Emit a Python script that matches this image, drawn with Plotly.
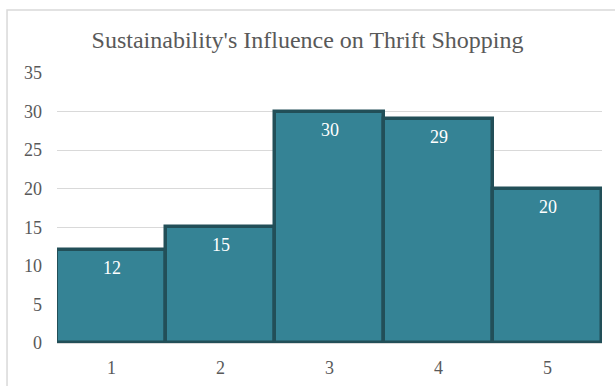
import plotly.graph_objects as go

# Survey scores and respondent counts
categories = [1, 2, 3, 4, 5]
counts = [12, 15, 30, 29, 20]
y_ticks = [0, 5, 10, 15, 20, 25, 30, 35]

title_text = "Sustainability's Influence on Thrift Shopping"
serif = "Times New Roman, Liberation Serif, DejaVu Serif, serif"
text_grey = "#595959"
bar_fill = "#358395"
bar_edge = "#224f58"

fig = go.Figure(
    go.Bar(
        x=categories,
        y=counts,
        marker=dict(color=bar_fill, line=dict(color=bar_edge, width=3.5)),
        hoverinfo="skip",
    )
)

# Value labels just under the top edge of each bar
for c, v in zip(categories, counts):
    fig.add_annotation(
        x=c, y=v, text=str(v), showarrow=False,
        yanchor="middle", yshift=-18,
        font=dict(family=serif, size=18, color="white"),
    )

# Light outer frame of the chart
fig.add_shape(
    type="rect", xref="paper", yref="paper",
    x0=-0.0917, x1=1.2, y0=-0.6, y1=1.2333,
    line=dict(color="#d9d9d9", width=1.5), layer="below",
)

fig.update_layout(
    width=615, height=386,
    margin=dict(l=57, r=13, t=73, b=43, autoexpand=False),
    paper_bgcolor="white", plot_bgcolor="white",
    bargap=0,
    showlegend=False,
    font=dict(family=serif),
    title=dict(
        text=title_text, x=0.5, xref="container", xanchor="center",
        y=1 - 40 / 386, yanchor="middle",
        font=dict(family=serif, size=24, color=text_grey),
    ),
    xaxis=dict(
        range=[0.5, 5.5], tickvals=categories,
        showgrid=False, zeroline=False, automargin=False,
        showline=True, linecolor="#d9d9d9", linewidth=1,
        ticks="", ticklabelstandoff=8,
        tickfont=dict(family=serif, size=18, color=text_grey),
    ),
    yaxis=dict(
        range=[0, 35], tickvals=y_ticks,
        showgrid=True, gridcolor="#d9d9d9", gridwidth=1,
        zeroline=False, showline=False, automargin=False,
        ticks="", ticklabelstandoff=14,
        tickfont=dict(family=serif, size=18, color=text_grey),
    ),
)

fig.write_html("out.html")
